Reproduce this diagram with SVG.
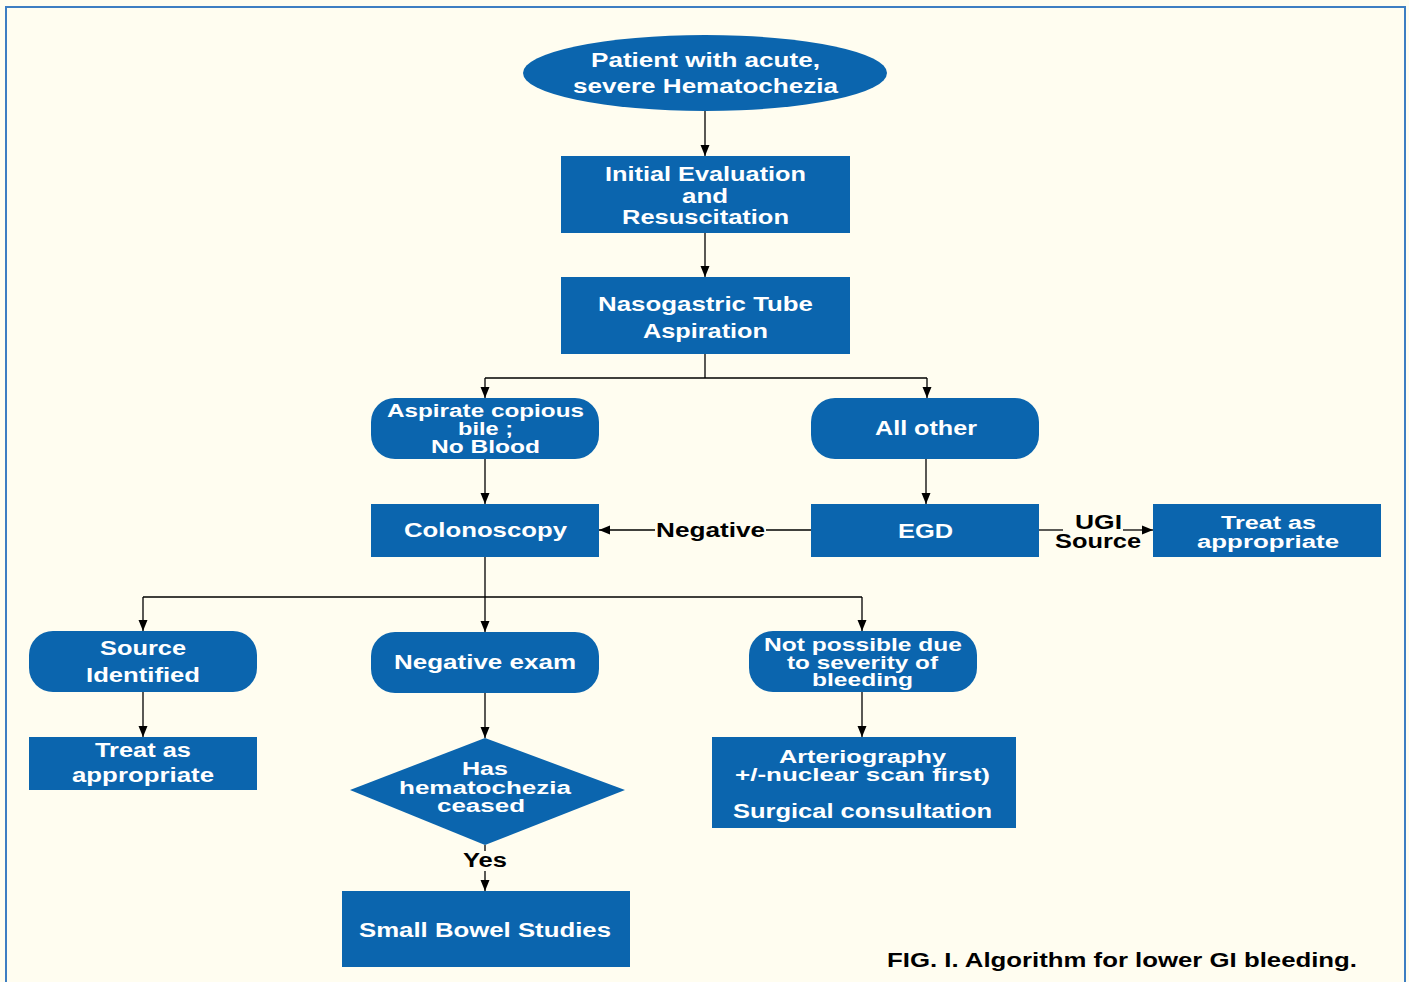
<svg xmlns="http://www.w3.org/2000/svg" width="1409" height="982" viewBox="0 0 1409 982">
<defs>
<style>
.bg{fill:#FFFDF0}
.frame{fill:none;stroke:#3D7EC2;stroke-width:2}
.n{fill:#0B65AE}
.t{fill:#FFFFFF;font-family:"Liberation Sans",Arial,sans-serif;font-weight:bold;font-size:20px;text-anchor:middle}
.s{font-size:18px}
.k{fill:#000000;font-family:"Liberation Sans",Arial,sans-serif;font-weight:bold;font-size:20px;text-anchor:middle}
.c{fill:none;stroke:#000000;stroke-width:1.3}
</style>
<marker id="arr" markerUnits="userSpaceOnUse" markerWidth="11" markerHeight="10" refX="11" refY="5" orient="auto">
<path d="M0,0.5 L11,5 L0,9.5 z" fill="#000000"/>
</marker>
</defs>
<rect class="bg" x="0" y="0" width="1409" height="982"/>
<rect class="frame" x="6" y="7" width="1399" height="1000"/>

<g id="connectors">
<path class="c" d="M705,111 V156" marker-end="url(#arr)"/>
<path class="c" d="M705,233 V277" marker-end="url(#arr)"/>
<path class="c" d="M705,354 V378"/>
<path class="c" d="M485,378 H927"/>
<path class="c" d="M485,378 V398" marker-end="url(#arr)"/>
<path class="c" d="M927,378 V398" marker-end="url(#arr)"/>
<path class="c" d="M485,459 V504" marker-end="url(#arr)"/>
<path class="c" d="M926,459 V504" marker-end="url(#arr)"/>
<path class="c" d="M811,530 H766"/>
<path class="c" d="M655,530 H599" marker-end="url(#arr)"/>
<path class="c" d="M1039,530 H1063"/>
<path class="c" d="M1123,530 H1153" marker-end="url(#arr)"/>
<path class="c" d="M485,557 V597"/>
<path class="c" d="M143,597 H862"/>
<path class="c" d="M143,597 V631" marker-end="url(#arr)"/>
<path class="c" d="M485,597 V632" marker-end="url(#arr)"/>
<path class="c" d="M862,597 V631" marker-end="url(#arr)"/>
<path class="c" d="M143,692 V737" marker-end="url(#arr)"/>
<path class="c" d="M485,693 V738" marker-end="url(#arr)"/>
<path class="c" d="M862,692 V737" marker-end="url(#arr)"/>
<path class="c" d="M485,845 V851"/>
<path class="c" d="M485,871 V891" marker-end="url(#arr)"/>
<text class="k" x="710.5" y="537" textLength="109" lengthAdjust="spacingAndGlyphs">Negative</text>
<text class="k s" x="1098.5" y="529" textLength="47" lengthAdjust="spacingAndGlyphs">UGI</text>
<text class="k s" x="1098" y="548" textLength="86" lengthAdjust="spacingAndGlyphs">Source</text>
<text class="k" x="485" y="867" textLength="44" lengthAdjust="spacingAndGlyphs">Yes</text>
</g>

<g id="start">
<ellipse class="n" cx="705" cy="73" rx="182" ry="38"/>
<text class="t" x="705.5" y="67" textLength="229" lengthAdjust="spacingAndGlyphs">Patient with acute,</text>
<text class="t" x="705.5" y="93" textLength="265" lengthAdjust="spacingAndGlyphs">severe Hematochezia</text>
</g>

<g id="initial">
<rect class="n" x="561" y="156" width="289" height="77"/>
<text class="t" x="705.5" y="181" textLength="201" lengthAdjust="spacingAndGlyphs">Initial Evaluation</text>
<text class="t" x="705" y="203" textLength="46" lengthAdjust="spacingAndGlyphs">and</text>
<text class="t" x="705.5" y="224" textLength="167" lengthAdjust="spacingAndGlyphs">Resuscitation</text>
</g>

<g id="ngt">
<rect class="n" x="561" y="277" width="289" height="77"/>
<text class="t" x="705.5" y="311" textLength="215" lengthAdjust="spacingAndGlyphs">Nasogastric Tube</text>
<text class="t" x="705.5" y="338" textLength="125" lengthAdjust="spacingAndGlyphs">Aspiration</text>
</g>

<g id="bile">
<rect class="n" x="371" y="398" width="228" height="61" rx="24"/>
<text class="t s" x="485.5" y="417" textLength="197" lengthAdjust="spacingAndGlyphs">Aspirate copious</text>
<text class="t s" x="485.5" y="435" textLength="55" lengthAdjust="spacingAndGlyphs">bile ;</text>
<text class="t s" x="485.5" y="453" textLength="109" lengthAdjust="spacingAndGlyphs">No Blood</text>
</g>

<g id="allother">
<rect class="n" x="811" y="398" width="228" height="61" rx="24"/>
<text class="t" x="926" y="435" textLength="102" lengthAdjust="spacingAndGlyphs">All other</text>
</g>

<g id="colonoscopy">
<rect class="n" x="371" y="504" width="228" height="53"/>
<text class="t" x="485.5" y="537" textLength="163" lengthAdjust="spacingAndGlyphs">Colonoscopy</text>
</g>

<g id="egd">
<rect class="n" x="811" y="504" width="228" height="53"/>
<text class="t" x="925.5" y="538" textLength="55" lengthAdjust="spacingAndGlyphs">EGD</text>
</g>

<g id="treat-ugi">
<rect class="n" x="1153" y="504" width="228" height="53"/>
<text class="t s" x="1268.5" y="529" textLength="95" lengthAdjust="spacingAndGlyphs">Treat as</text>
<text class="t s" x="1268" y="548" textLength="142" lengthAdjust="spacingAndGlyphs">appropriate</text>
</g>

<g id="source">
<rect class="n" x="29" y="631" width="228" height="61" rx="24"/>
<text class="t" x="143" y="655" textLength="86" lengthAdjust="spacingAndGlyphs">Source</text>
<text class="t" x="143" y="682" textLength="114" lengthAdjust="spacingAndGlyphs">Identified</text>
</g>

<g id="negexam">
<rect class="n" x="371" y="632" width="228" height="61" rx="24"/>
<text class="t" x="485" y="669" textLength="182" lengthAdjust="spacingAndGlyphs">Negative exam</text>
</g>

<g id="notpossible">
<rect class="n" x="749" y="631" width="228" height="61" rx="24"/>
<text class="t s" x="863" y="651" textLength="198" lengthAdjust="spacingAndGlyphs">Not possible due</text>
<text class="t s" x="862.5" y="669" textLength="151" lengthAdjust="spacingAndGlyphs">to severity of</text>
<text class="t s" x="862.5" y="686" textLength="101" lengthAdjust="spacingAndGlyphs">bleeding</text>
</g>

<g id="treat-left">
<rect class="n" x="29" y="737" width="228" height="53"/>
<text class="t" x="143" y="757" textLength="96" lengthAdjust="spacingAndGlyphs">Treat as</text>
<text class="t" x="143" y="782" textLength="142" lengthAdjust="spacingAndGlyphs">appropriate</text>
</g>

<g id="ceased">
<polygon class="n" points="485,738 625,790 485,845 350,790"/>
<text class="t s" x="485" y="775" textLength="46" lengthAdjust="spacingAndGlyphs">Has</text>
<text class="t s" x="485" y="794" textLength="172" lengthAdjust="spacingAndGlyphs">hematochezia</text>
<text class="t s" x="481" y="812" textLength="88" lengthAdjust="spacingAndGlyphs">ceased</text>
</g>

<g id="arteriography">
<rect class="n" x="712" y="737" width="304" height="91"/>
<text class="t s" x="862.5" y="763" textLength="167" lengthAdjust="spacingAndGlyphs">Arteriography</text>
<text class="t s" x="862.5" y="781" textLength="255" lengthAdjust="spacingAndGlyphs">+/-nuclear scan first)</text>
<text class="t" x="862.5" y="818" textLength="259" lengthAdjust="spacingAndGlyphs">Surgical consultation</text>
</g>

<g id="smallbowel">
<rect class="n" x="342" y="891" width="288" height="76"/>
<text class="t" x="485" y="937" textLength="252" lengthAdjust="spacingAndGlyphs">Small Bowel Studies</text>
</g>

<text class="k" x="1122" y="967" textLength="470" lengthAdjust="spacingAndGlyphs">FIG. I. Algorithm for lower GI bleeding.</text>
</svg>
